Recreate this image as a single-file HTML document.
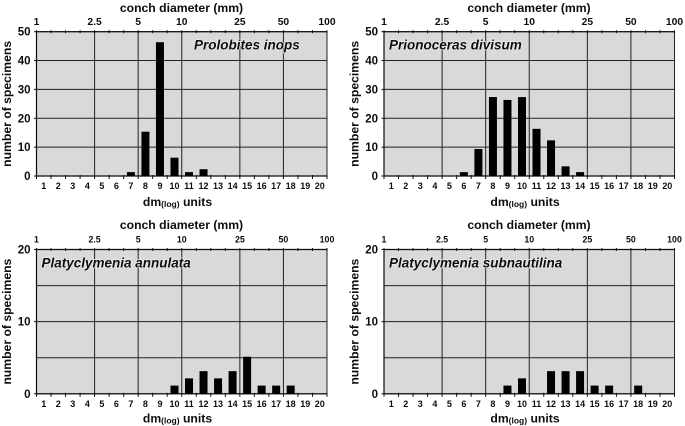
<!DOCTYPE html>
<html lang="en">
<head>
<meta charset="utf-8">
<title>Conch diameter histograms</title>
<style>
html,body{margin:0;padding:0;background:#fff;width:685px;height:426px;overflow:hidden}
svg{display:block}
text{font-family:"Liberation Sans",Arial,sans-serif;font-weight:bold;fill:#111}
</style>
</head>
<body>
<svg id="chart" xmlns="http://www.w3.org/2000/svg" width="685" height="426" viewBox="0 0 685 426">
<defs><filter id="soft" x="-2%" y="-2%" width="104%" height="104%"><feGaussianBlur stdDeviation="0.3"/></filter></defs>
<g id="root" filter="url(#soft)"></g>
</svg>
<script>
const binLabels = [1,2,3,4,5,6,7,8,9,10,11,12,13,14,15,16,17,18,19,20];
const diameterTickLabels = ["1","2.5","5","10","25","50","100"];
const diameterTickBins = [0,4,7,10,14,17,20];

const prolobitesValues = [0,0,0,0,0,0,1,15,46,6,1,2,0,0,0,0,0,0,0,0];
const prionocerasValues = [0,0,0,0,0,1,9,27,26,27,16,12,3,1,0,0,0,0,0,0];
const annulataValues = [0,0,0,0,0,0,0,0,0,1,2,3,2,3,5,1,1,1,0,0];
const subnautilinaValues = [0,0,0,0,0,0,0,0,1,2,0,3,3,3,1,1,0,1,0,0];

const topAxisMax = 50;
const topGridTicks = [0,10,20,30,40,50];
const topLabelTicks = [0,10,20,30,40,50];
const bottomAxisMax = 20;
const bottomGridTicks = [0,5,10,15,20];
const bottomLabelTicks = [0,10,20];

const NS = "http://www.w3.org/2000/svg";
const root = document.getElementById("root");

function make(tag, attrs, parent, content) {
  const el = document.createElementNS(NS, tag);
  for (const k in attrs) el.setAttribute(k, attrs[k]);
  if (content !== undefined) el.textContent = content;
  parent.appendChild(el);
  return el;
}

function drawPanel(cfg) {
  const g = make("g", {}, root);
  
  
  const W = 290.5, H = 144.3;
  const x = b => cfg.x + b * W / binLabels.length;
  const y = v => cfg.y + H - v / cfg.max * H;

  const bg = make("rect", {x: cfg.x, y: cfg.y, width: W, height: H, fill: "#d9d9d9"}, g);
  
  

  cfg.gridTicks.forEach(t => {
    const line = make("line", {x1: cfg.x, x2: cfg.x + W, y1: y(t), y2: y(t), stroke: "#222", "stroke-width": 1}, g);
    
    
  });
  diameterTickBins.forEach(b => {
    const line = make("line", {x1: x(b), x2: x(b), y1: cfg.y, y2: cfg.y + H, stroke: "#222", "stroke-width": 1}, g);
    
    
  });

  for (let b = 0; b <= binLabels.length; b++) {
    const topTick = make("line", {x1: x(b), x2: x(b), y1: cfg.y - 1.5, y2: cfg.y + 1.5, stroke: "#111", "stroke-width": 1}, g);
    
    
    const botTick = make("line", {x1: x(b), x2: x(b), y1: cfg.y + H - 1, y2: cfg.y + H + 3, stroke: "#111", "stroke-width": 1}, g);
    
    
  }

  const frame = make("path", {d: `M${cfg.x} ${cfg.y + H}V${cfg.y}H${cfg.x + W}M${cfg.x} ${cfg.y + H}H${cfg.x + W}`, fill: "none", stroke: "#111", "stroke-width": 1.2}, g);
  
  

  cfg.values.forEach((v, i) => {
    if (!v) return;
    const top = y(v) - 1;
    const bar = make("rect", {x: x(i + 0.5) - 4, y: top, width: 8, height: cfg.y + H - top, fill: "#000"}, g);
    
    
  });

  cfg.labelTicks.forEach(t => {
    const tick = make("line", {x1: cfg.x - 2.5, x2: cfg.x, y1: y(t), y2: y(t), stroke: "#111", "stroke-width": 1}, g);
    
    
    const label = make("text", {x: cfg.x - 6, y: y(t) + 4, "text-anchor": "end", "font-size": 11.5}, g, String(t));
    
    
  });

  binLabels.forEach((lab, i) => {
    const label = make("text", {x: x(i + 0.5), y: cfg.y + H + 13, "text-anchor": "middle", "font-size": 9}, g, String(lab));
    
    
  });

  diameterTickBins.forEach((b, i) => {
    const label = make("text", {x: x(b), y: cfg.y - cfg.topGap, "text-anchor": "middle", "font-size": cfg.topFont}, g, diameterTickLabels[i]);
    
    
  });

  const topTitle = make("text", {x: cfg.x + 145, y: cfg.titleY, "text-anchor": "middle", "font-size": 12.2}, g, "conch diameter (mm)");
  
  

  const xTitle = make("text", {x: cfg.x + 141, y: cfg.y + H + cfg.xTitleGap, "text-anchor": "middle", "font-size": 12.2}, g);
  
  
  make("tspan", {}, xTitle, "dm");
  make("tspan", {"font-size": 8.5, dy: 1}, xTitle, "(log)");
  make("tspan", {dy: -1}, xTitle, " units");

  const yc = cfg.y + H / 2;
  const yx = cfg.x - 25.5;
  const yTitle = make("text", {x: yx, y: yc, "text-anchor": "middle", "font-size": 12.2, transform: `rotate(-90 ${yx} ${yc})`}, g, "number of specimens");
  
  

  const species = make("text", {x: cfg.x + cfg.nameDx, y: cfg.y + 18, "font-size": 13.5, "font-style": "italic", stroke: "#ececec", "stroke-width": 1.4, "paint-order": "stroke"}, g, cfg.species);
  
  
}

drawPanel({name: "prolobites-inops", species: "Prolobites inops", x: 36.5, y: 31.7, max: topAxisMax, gridTicks: topGridTicks, labelTicks: topLabelTicks, values: prolobitesValues, topFont: 10.3, topGap: 6.5, titleY: 12, xTitleGap: 30, nameDx: 157.5});
drawPanel({name: "prionoceras-divisum", species: "Prionoceras divisum", x: 384, y: 31.7, max: topAxisMax, gridTicks: topGridTicks, labelTicks: topLabelTicks, values: prionocerasValues, topFont: 10.3, topGap: 6.5, titleY: 12, xTitleGap: 30, nameDx: 5});
drawPanel({name: "platyclymenia-annulata", species: "Platyclymenia annulata", x: 36.5, y: 249.5, max: bottomAxisMax, gridTicks: bottomGridTicks, labelTicks: bottomLabelTicks, values: annulataValues, topFont: 8.8, topGap: 7, titleY: 229, xTitleGap: 28.5, nameDx: 5});
drawPanel({name: "platyclymenia-subnautilina", species: "Platyclymenia subnautilina", x: 384, y: 249.5, max: bottomAxisMax, gridTicks: bottomGridTicks, labelTicks: bottomLabelTicks, values: subnautilinaValues, topFont: 8.8, topGap: 7, titleY: 229, xTitleGap: 28.5, nameDx: 5});
</script>
</body>
</html>
